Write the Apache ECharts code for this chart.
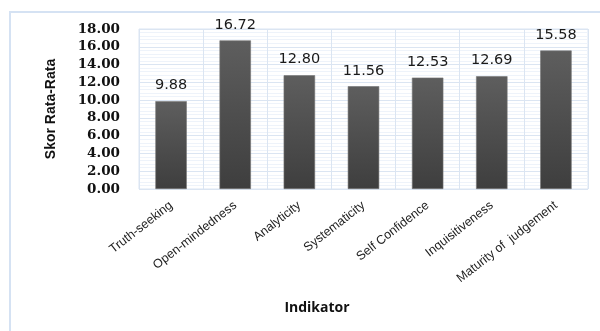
<!DOCTYPE html>
<html>
<head>
<meta charset="utf-8">
<script src="https://cdn.jsdelivr.net/npm/echarts@6/dist/echarts.min.js"></script>
<style>
  html, body { margin: 0; padding: 0; background: #ffffff; }
  #chart { width: 600px; height: 331px; }
</style>
</head>
<body>
<div id="chart"></div>
<script>
// Average score per critical-thinking indicator
const categories = [
  'Truth-seeking',
  'Open-mindedness',
  'Analyticity',
  'Systematicity',
  'Self Confidence',
  'Inquisitiveness',
  'Maturity of  judgement'
];
const scores = [9.88, 16.72, 12.80, 11.56, 12.53, 12.69, 15.58];
const yTicks = { min: 0, max: 18, step: 2 };
const yAxisTitle = 'Skor Rata-Rata';
const xAxisTitle = 'Indikator';

const chart = echarts.init(document.getElementById('chart'), null, { renderer: 'canvas' });

const barFill = new echarts.graphic.LinearGradient(0, 0, 0, 1, [
  { offset: 0, color: '#5e5e5e' },
  { offset: 1, color: '#3e3e3e' }
]);

chart.setOption({
  animation: false,
  backgroundColor: '#ffffff',
  grid: { left: 139, right: 12, top: 29, bottom: 142, show: true, borderColor: '#dbe5f2', borderWidth: 1 },
  graphic: [
    {
      type: 'polyline',
      shape: { points: [[10, 331], [10, 12], [600, 12]] },
      style: { stroke: '#d5e2f3', lineWidth: 2, fill: null },
      silent: true
    },
    {
      type: 'text',
      x: 317,
      y: 308,
      silent: true,
      style: {
        text: xAxisTitle,
        align: 'center',
        verticalAlign: 'middle',
        font: 'bold 14px "Open Sans", "DejaVu Sans", sans-serif',
        fill: '#111111'
      }
    }
  ],
  xAxis: {
    type: 'category',
    data: categories,
    axisLine: { show: false },
    axisTick: { show: false },
    splitLine: { show: true, lineStyle: { color: '#dbe5f2', width: 1 } },
    axisLabel: {
      interval: 0,
      rotate: 38,
      margin: 15,
      color: '#222222',
      fontFamily: '"Liberation Sans", Arial, sans-serif',
      fontSize: 12.5
    }
  },
  yAxis: {
    type: 'value',
    min: yTicks.min,
    max: yTicks.max,
    interval: yTicks.step,
    name: yAxisTitle,
    nameLocation: 'middle',
    nameGap: 81,
    nameRotate: 90,
    nameTextStyle: {
      fontFamily: '"Liberation Sans Narrow", "Liberation Sans", sans-serif',
      fontWeight: 'bold',
      fontSize: 14,
      color: '#111111'
    },
    axisLine: { show: false },
    axisTick: { show: false },
    axisLabel: {
      margin: 19,
      color: '#111111',
      fontFamily: '"DejaVu Serif", serif',
      fontWeight: 'bold',
      fontSize: 13.5,
      formatter: v => v.toFixed(2)
    },
    splitLine: { show: true, lineStyle: { color: '#dbe5f2', width: 1 } },
    minorTick: { show: false, splitNumber: 5 },
    minorSplitLine: { show: true, lineStyle: { color: '#eef3fa', width: 1 } }
  },
  series: [{
    type: 'bar',
    data: scores,
    barWidth: '49%',
    itemStyle: { color: barFill, borderColor: '#757575', borderWidth: 0.6 },
    label: {
      show: true,
      position: 'top',
      distance: 8,
      color: '#1a1a1a',
      fontFamily: '"DejaVu Sans", sans-serif',
      fontSize: 14.5,
      formatter: p => p.value.toFixed(2)
    }
  }]
});
</script>
</body>
</html>
